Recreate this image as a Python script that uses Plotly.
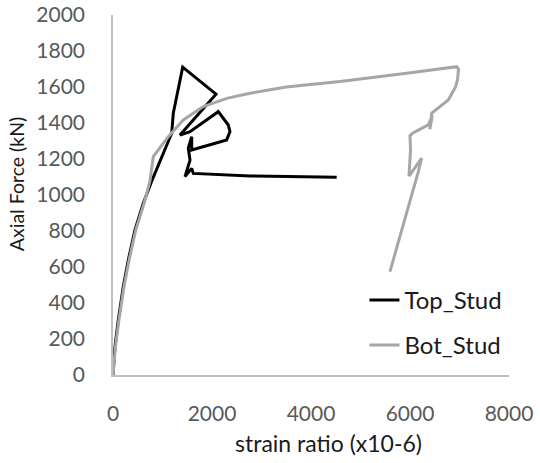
import plotly.graph_objects as go

# Top stud: strain (x10-6) vs axial force (kN)
top_x = [0, 40, 107, 208, 309, 444, 612, 790, 1186, 1218, 1408, 2081, 1353,
         1556, 2127, 2329, 2363, 2297, 1590, 1590, 1521, 1556, 1454, 1590,
         1622, 2297, 2767, 4519]
top_y = [0, 157, 306, 491, 639, 806, 954, 1083, 1343, 1454, 1710, 1560, 1333,
         1352, 1463, 1389, 1352, 1306, 1250, 1324, 1260, 1194, 1102, 1148,
         1120, 1111, 1106, 1098]

# Bottom stud
bot_x = [0, 50, 120, 222, 325, 460, 628, 747, 814, 1117, 1420, 1824, 2297,
         2767, 3500, 4585, 5933, 6943, 6980, 6960, 6920, 6842, 6774, 6440,
         6400, 6450, 6370, 6060, 6000, 6010, 5980, 6236, 6168, 5595]
bot_y = [0, 157, 306, 491, 639, 806, 954, 1078, 1213, 1324, 1417, 1491, 1537,
         1565, 1600, 1630, 1676, 1713, 1700, 1640, 1600, 1565, 1528, 1455,
         1365, 1440, 1390, 1345, 1330, 1250, 1105, 1205, 1130, 574]

x_ticks = [0, 2000, 4000, 6000, 8000]
y_ticks = [0, 200, 400, 600, 800, 1000, 1200, 1400, 1600, 1800, 2000]

FONT = "Lato"

fig = go.Figure()

fig.add_trace(go.Scatter(
    x=top_x, y=top_y, mode="lines", name="Top_Stud", legendgroup="top",
    line=dict(color="#000000", width=3)
))
fig.add_trace(go.Scatter(
    x=bot_x, y=bot_y, mode="lines", name="Bot_Stud", legendgroup="bot",
    line=dict(color="#A6A6A6", width=3)
))

fig.update_layout(
    width=540,
    height=463,
    margin=dict(l=113, r=31, t=15, b=88),
    plot_bgcolor="white",
    paper_bgcolor="white",
    font=dict(family=FONT, size=21, color="#595959"),
    legend=dict(
        x=0.635, y=0.27, xanchor="left", yanchor="top",
        font=dict(family=FONT, size=24, color="#1a1a1a"),
        tracegroupgap=11,
        bgcolor="rgba(0,0,0,0)",
    ),
    annotations=[
        dict(text="Axial Force (kN)", xref="paper", yref="paper",
             x=-0.245, y=0.53, textangle=-90, showarrow=False,
             xanchor="center", yanchor="middle",
             font=dict(family=FONT, size=19.5, color="#1a1a1a")),
        dict(text="strain ratio (x10-6)", xref="paper", yref="paper",
             x=0.545, y=-0.19, showarrow=False,
             xanchor="center", yanchor="middle",
             font=dict(family=FONT, size=23, color="#1a1a1a")),
    ],
)

fig.update_xaxes(
    range=[0, 8000], tickvals=x_ticks, showgrid=False, zeroline=False,
    showline=True, linecolor="#BFBFBF", linewidth=1.5, ticks="",
    ticklabelstandoff=19, automargin=False,
)
fig.update_yaxes(
    range=[0, 2000], tickvals=y_ticks, showgrid=False, zeroline=False,
    showline=True, linecolor="#BFBFBF", linewidth=1.5, ticks="",
    ticklabelstandoff=22, automargin=False,
)

# page body has a default margin; drop it so the figure sits at the corner
fig.write_html("out.html", config={"displayModeBar": False},
               post_script="document.body.style.margin='0';")
